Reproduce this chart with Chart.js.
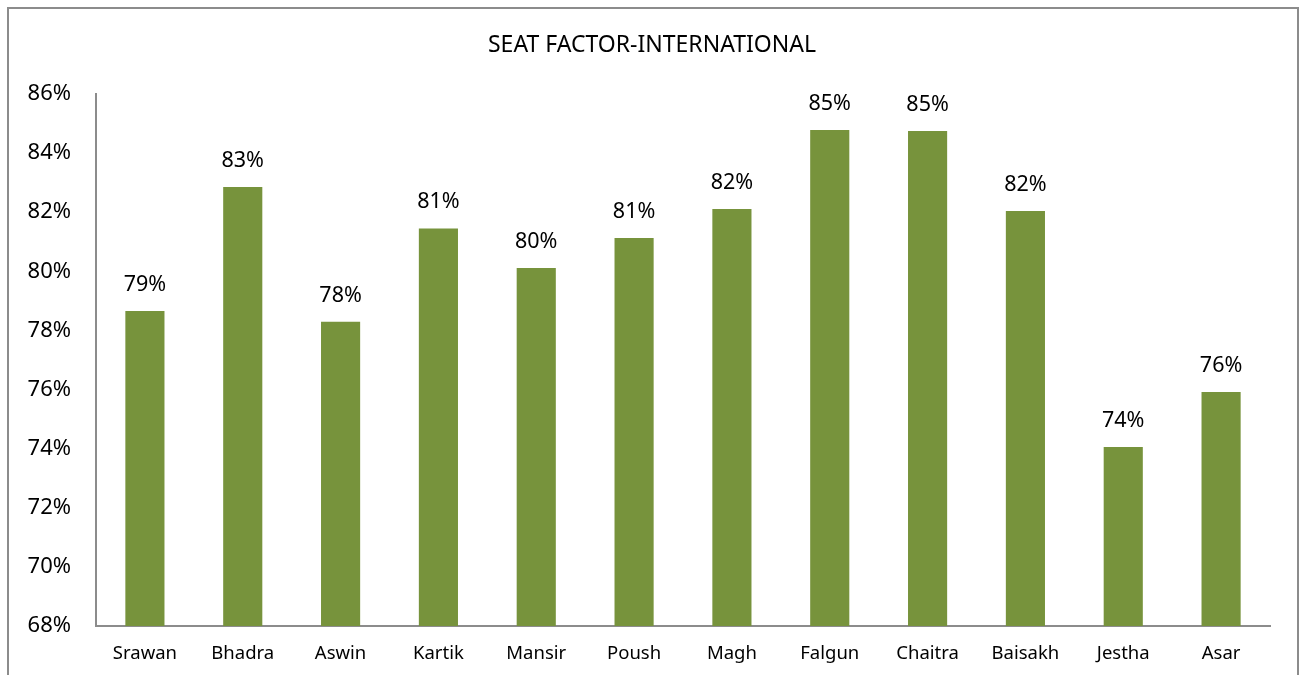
<!DOCTYPE html>
<html>
<head>
<meta charset="utf-8">
<script src="https://cdn.jsdelivr.net/npm/chart.js@4/dist/chart.umd.min.js"></script>
<style>
  html, body { margin: 0; padding: 0; background: #fff; }
  #frame { position: absolute; left: 7px; top: 7px; width: 1288px; height: 700px; border: 2px solid #8c8c8c; }
  #wrap { position: absolute; left: 0; top: 0; width: 1303px; height: 675px; }
</style>
</head>
<body>
<div id="frame"></div>
<div id="wrap"><canvas id="c" width="1303" height="675"></canvas></div>
<script>
// Seat factor by month (Nepali calendar), percent
const months = ['Srawan', 'Bhadra', 'Aswin', 'Kartik', 'Mansir', 'Poush', 'Magh', 'Falgun', 'Chaitra', 'Baisakh', 'Jestha', 'Asar'];
const seatFactor = [78.66, 82.85, 78.29, 81.45, 80.11, 81.13, 82.11, 84.78, 84.75, 82.04, 74.06, 75.92];
const yTicks = [68, 70, 72, 74, 76, 78, 80, 82, 84, 86];
const chartTitle = 'SEAT FACTOR-INTERNATIONAL';

const FONT = '"Noto Sans", "Open Sans", sans-serif';
const BAR = '#77933C';
const AXIS = '#8c8c8c';

// value labels above each bar, and the title centred on the whole frame
const barLabels = {
  id: 'barLabels',
  afterDatasetsDraw(chart) {
    const ctx = chart.ctx;
    const meta = chart.getDatasetMeta(0);
    ctx.save();
    ctx.font = '21.5px ' + FONT;
    ctx.fillStyle = '#000';
    ctx.textAlign = 'center';
    ctx.textBaseline = 'alphabetic';
    meta.data.forEach((bar, i) => {
      ctx.fillText(Math.round(seatFactor[i]) + '%', bar.x, bar.y - 20);
    });
    ctx.font = '23px ' + FONT;
    ctx.textBaseline = 'middle';
    ctx.fillText(chartTitle, 652, 45);
    ctx.restore();
  },
};

new Chart(document.getElementById('c').getContext('2d'), {
  type: 'bar',
  data: {
    labels: months,
    datasets: [{
      data: seatFactor,
      backgroundColor: BAR,
      borderWidth: 0,
      barPercentage: 0.4,
      categoryPercentage: 1,
    }],
  },
  options: {
    responsive: false,
    animation: false,
    layout: { padding: { left: 0, right: 33, top: 94, bottom: 0 } },
    plugins: {
      legend: { display: false },
      tooltip: { enabled: false },
      title: { display: false },
    },
    scales: {
      x: {
        grid: { display: false, drawTicks: false },
        border: { display: true, color: AXIS, width: 2 },
        ticks: { color: '#000', font: { family: FONT, size: 18.5 }, padding: 17, maxRotation: 0 },
        afterFit: (s) => { s.height = 49; },
      },
      y: {
        min: 68,
        max: 86,
        grid: { display: false, drawTicks: false },
        border: { display: true, color: AXIS, width: 2 },
        afterBuildTicks: (s) => { s.ticks = yTicks.map((v) => ({ value: v })); },
        ticks: {
          color: '#000',
          font: { family: FONT, size: 22 },
          padding: 25,
          callback: (v) => v + '%',
        },
        afterFit: (s) => { s.width = 96; },
      },
    },
  },
  plugins: [barLabels],
});
</script>
</body>
</html>
